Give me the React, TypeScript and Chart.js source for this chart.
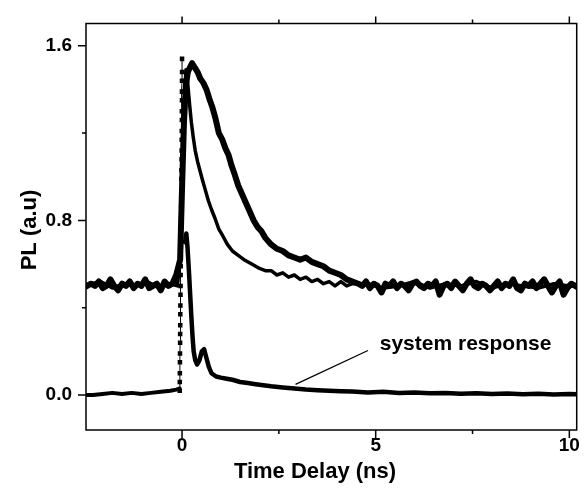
import React, { useEffect, useRef } from "react";
import { Chart, registerables } from "chart.js";

Chart.register(...registerables);

// ---- axis ticks ----
const xTickValues = [0, 5, 10];
const xMinorTicks = [2.5, 7.5];
const yTickValues = [0, 0.8, 1.6];
const yMinorTicks = [0.4, 1.2];
const xTitle = "Time Delay (ns)";
const yTitle = "PL (a.u)";
const annotationText = "system response";

// ---- sample A (thick trace, slower decay) ----
const sampleATime = [
  -2.55, -2.35, -2.25, -2.15, -2.05, -1.95, -1.85, -1.75, -1.65, -1.55, -1.45, -1.35,
  -1.25, -1.15, -1.05, -0.95, -0.85, -0.75, -0.65, -0.55, -0.45, -0.35, -0.25, -0.15,
  -0.05, 0.0, 0.05, 0.1, 0.15, 0.2, 0.26, 0.33, 0.4, 0.47,
  0.55, 0.63, 0.7, 0.78, 0.86, 0.95, 1.04, 1.12, 1.2, 1.28,
  1.36, 1.45, 1.55, 1.65, 1.75, 1.85, 1.95, 2.05, 2.15, 2.3,
  2.45, 2.6, 2.75, 2.9, 3.05, 3.2, 3.35, 3.5, 3.65, 3.8,
  3.95, 4.1, 4.25, 4.4,
  4.55, 4.65, 4.75, 4.85, 4.95, 5.05, 5.15, 5.25, 5.35, 5.45,
  5.55, 5.65, 5.75, 5.85, 5.95, 6.05, 6.15, 6.25, 6.35, 6.45,
  6.55, 6.65, 6.75, 6.85, 6.95, 7.05, 7.15, 7.25, 7.35, 7.45,
  7.55, 7.65, 7.75, 7.85, 7.95, 8.05, 8.15, 8.25, 8.35, 8.45,
  8.55, 8.65, 8.75, 8.85, 8.95, 9.05, 9.15, 9.25, 9.35, 9.45,
  9.55, 9.65, 9.75, 9.85, 9.95, 10.05, 10.15, 10.25,
];
const sampleAPL = [
  0.49, 0.51, 0.50, 0.52, 0.49, 0.50, 0.53, 0.50, 0.48, 0.51, 0.50, 0.52,
  0.49, 0.51, 0.50, 0.53, 0.49, 0.50, 0.51, 0.48, 0.52, 0.50, 0.51, 0.55,
  0.62, 0.95, 1.25, 1.42, 1.48, 1.50, 1.52, 1.50, 1.48, 1.45,
  1.43, 1.40, 1.36, 1.32, 1.27, 1.20, 1.17, 1.13, 1.10, 1.05,
  1.01, 0.96, 0.92, 0.88, 0.84, 0.80, 0.77, 0.75, 0.72, 0.69,
  0.67, 0.66, 0.64, 0.63, 0.62, 0.63, 0.61, 0.60, 0.59, 0.57,
  0.56, 0.55, 0.53, 0.52,
  0.51, 0.50, 0.52, 0.49, 0.51, 0.50, 0.47, 0.51, 0.50, 0.52,
  0.49, 0.51, 0.50, 0.48, 0.51, 0.52, 0.50, 0.49, 0.51, 0.50,
  0.52, 0.46, 0.50, 0.51, 0.49, 0.52, 0.50, 0.48, 0.51, 0.53,
  0.50, 0.49, 0.51, 0.50, 0.48, 0.50, 0.52, 0.49, 0.51, 0.50,
  0.53, 0.49, 0.48, 0.51, 0.50, 0.52, 0.49, 0.51, 0.53, 0.50,
  0.47, 0.50, 0.52, 0.46, 0.49, 0.51, 0.50, 0.49,
];

// ---- sample B (thinner trace, faster decay) ----
const sampleBTime = [
  -2.55, -2.1, -1.8, -1.5, -1.2, -0.9, -0.6, -0.3,
  -0.12, -0.05, 0.02, 0.07, 0.1, 0.14, 0.19, 0.24, 0.29, 0.34,
  0.4, 0.46, 0.52, 0.6, 0.68, 0.76, 0.85, 0.95, 1.05, 1.17,
  1.3, 1.45, 1.6, 1.8, 2.0, 2.15, 2.3, 2.45, 2.6, 2.75,
  2.9, 3.05, 3.2, 3.35, 3.5, 3.65, 3.8, 3.95, 4.1, 4.25,
  4.4, 4.8, 5.2, 5.6, 6.0, 6.4, 6.8, 7.2,
  7.6, 8.0, 8.4, 8.8, 9.2, 9.6, 10.0, 10.25,
];
const sampleBPL = [
  0.50, 0.52, 0.49, 0.51, 0.50, 0.52, 0.49, 0.51,
  0.50, 0.62, 1.05, 1.38, 1.49, 1.44, 1.34, 1.25, 1.18, 1.12,
  1.07, 1.03, 0.99, 0.94, 0.89, 0.85, 0.81, 0.76, 0.73, 0.69,
  0.66, 0.64, 0.62, 0.60, 0.58, 0.57, 0.57, 0.55, 0.56, 0.54,
  0.55, 0.53, 0.54, 0.52, 0.53, 0.51, 0.52, 0.50, 0.52, 0.50,
  0.51, 0.51, 0.49, 0.50, 0.52, 0.49, 0.51, 0.50,
  0.52, 0.49, 0.51, 0.50, 0.49, 0.51, 0.50, 0.50,
];

// ---- system response ----
const sysBaseTime = [-2.55, -2.3, -2.05, -1.8, -1.55, -1.3, -1.05, -0.8, -0.55, -0.3, -0.15, -0.06];
const sysBasePL = [0.0, 0.0, 0.005, 0.01, 0.005, 0.01, 0.005, 0.01, 0.015, 0.02, 0.025, 0.03];

const sysRiseTime = [
  -0.06, -0.058, -0.057, -0.055, -0.053, -0.05, -0.049, -0.047, -0.045, -0.043,
  -0.04, -0.038, -0.037, -0.035, -0.032, -0.03, -0.028, -0.027, -0.025, -0.022,
  -0.02, -0.018, -0.017, -0.015, -0.012, -0.01, -0.009, -0.007, -0.005, -0.004,
  -0.003, -0.002, -0.001, 0.0, 0.0,
];
const sysRisePL = [
  0.02, 0.06, 0.10, 0.15, 0.19, 0.24, 0.28, 0.32, 0.37, 0.41,
  0.46, 0.50, 0.55, 0.59, 0.63, 0.68, 0.72, 0.77, 0.81, 0.86,
  0.90, 0.94, 0.99, 1.03, 1.08, 1.12, 1.17, 1.21, 1.26, 1.30,
  1.35, 1.39, 1.44, 1.48, 1.54,
];

const sysDecayTime = [
  0.08, 0.11, 0.14, 0.18, 0.21, 0.24, 0.27, 0.3, 0.34, 0.39,
  0.45, 0.51, 0.57, 0.63, 0.69, 0.76, 0.88, 1.0, 1.15, 1.3,
  1.5, 1.7, 1.9, 2.1, 2.3, 2.6, 2.9, 3.2, 3.5, 3.8,
  4.1, 4.4, 4.8, 5.2, 5.6, 6.0, 6.4, 6.8, 7.2, 7.6,
  8.0, 8.4, 8.8, 9.2, 9.6, 10.0, 10.25,
];
const sysDecayPL = [
  0.70, 0.74, 0.68, 0.56, 0.46, 0.36, 0.27, 0.20, 0.16, 0.14,
  0.16, 0.20, 0.21, 0.17, 0.13, 0.10, 0.085, 0.08, 0.075, 0.07,
  0.06, 0.055, 0.05, 0.045, 0.04, 0.035, 0.03, 0.025, 0.022, 0.02,
  0.018, 0.016, 0.012, 0.015, 0.01, 0.012, 0.008, 0.01, 0.006, 0.008,
  0.005, 0.007, 0.004, 0.006, 0.003, 0.005, 0.004,
];

const toPoints = (xs: number[], ys: number[]) => xs.map((x, i) => ({ x, y: ys[i] }));

const FONT = '"Liberation Sans", Arial, sans-serif';

const framePlugin = {
  id: "frameAndTicks",
  afterDraw(chart: any) {
    const { ctx, chartArea: a, scales } = chart;
    const xs = scales.x;
    const ys = scales.y;
    ctx.save();
    ctx.strokeStyle = "#000";
    ctx.lineWidth = 1.5;
    ctx.strokeRect(a.left, a.top, a.right - a.left, a.bottom - a.top);
    ctx.beginPath();
    for (const v of xTickValues) {
      const px = xs.getPixelForValue(v);
      ctx.moveTo(px, a.bottom);
      ctx.lineTo(px, a.bottom + 8);
      ctx.moveTo(px, a.top);
      ctx.lineTo(px, a.top - 7);
    }
    for (const v of xMinorTicks) {
      const px = xs.getPixelForValue(v);
      ctx.moveTo(px, a.bottom);
      ctx.lineTo(px, a.bottom + 4);
      ctx.moveTo(px, a.top);
      ctx.lineTo(px, a.top - 4);
    }
    for (const v of yTickValues) {
      const py = ys.getPixelForValue(v);
      ctx.moveTo(a.left, py);
      ctx.lineTo(a.left - 8, py);
    }
    for (const v of yMinorTicks) {
      const py = ys.getPixelForValue(v);
      ctx.moveTo(a.left, py);
      ctx.lineTo(a.left - 4, py);
    }
    ctx.stroke();

    // annotation
    ctx.fillStyle = "#000";
    ctx.font = `bold 21px ${FONT}`;
    ctx.textAlign = "center";
    ctx.textBaseline = "alphabetic";
    ctx.fillText(annotationText, xs.getPixelForValue(7.32), ys.getPixelForValue(0.205));
    ctx.lineWidth = 1.3;
    ctx.beginPath();
    ctx.moveTo(xs.getPixelForValue(4.8), ys.getPixelForValue(0.204));
    ctx.lineTo(xs.getPixelForValue(2.93), ys.getPixelForValue(0.049));
    ctx.stroke();

    // axis titles
    ctx.font = `bold 22px ${FONT}`;
    ctx.textBaseline = "middle";
    ctx.fillText(xTitle, 315, 472);
    ctx.translate(30, 230);
    ctx.rotate(-Math.PI / 2);
    ctx.fillText(yTitle, 0, 0);
    ctx.restore();
  },
};

export default function App() {
  const ref = useRef<HTMLCanvasElement | null>(null);
  useEffect(() => {
    document.body.style.margin = "0";
    const canvas = ref.current;
    if (!canvas) return;
    const line = (data: any, width: number) => ({
      data,
      showLine: true,
      borderColor: "#000",
      backgroundColor: "#000",
      borderWidth: width,
      pointRadius: 0,
      tension: 0,
      borderJoinStyle: "round",
      borderCapStyle: "round",
    });
    const chart = new Chart(canvas, {
      type: "scatter",
      data: {
        datasets: [
          line(toPoints(sysBaseTime, sysBasePL), 4),
          line(toPoints(sysDecayTime, sysDecayPL), 4.5),
          {
            data: toPoints(sysRiseTime, sysRisePL),
            showLine: true,
            borderColor: "#000",
            backgroundColor: "#000",
            borderWidth: 1,
            pointStyle: "rect",
            pointRadius: 3.2,
            pointBorderWidth: 0,
          },
          line(toPoints(sampleBTime, sampleBPL), 3.5),
          line(toPoints(sampleATime, sampleAPL), 6),
        ] as any,
      },
      options: {
        animation: false,
        responsive: false,
        events: [],
        layout: { padding: { top: 11, right: 6, left: 0, bottom: 0 } },
        plugins: { legend: { display: false }, tooltip: { enabled: false } },
        scales: {
          x: {
            type: "linear",
            min: -2.48,
            max: 10.19,
            grid: { display: false, drawTicks: false },
            border: { display: false },
            afterBuildTicks: (s: any) => {
              s.ticks = xTickValues.map((v) => ({ value: v }));
            },
            afterFit: (s: any) => {
              s.height = 70;
            },
            ticks: {
              color: "#000",
              padding: 6,
              maxRotation: 0,
              autoSkip: false,
              font: { family: FONT, size: 19, weight: "bold", lineHeight: 1 },
              callback: (v: any) => String(v),
            },
          },
          y: {
            type: "linear",
            min: -0.16,
            max: 1.702,
            grid: { display: false, drawTicks: false },
            border: { display: false },
            afterBuildTicks: (s: any) => {
              s.ticks = yTickValues.map((v) => ({ value: v }));
            },
            afterFit: (s: any) => {
              s.width = 86;
            },
            ticks: {
              color: "#000",
              padding: 14,
              autoSkip: false,
              font: { family: FONT, size: 19, weight: "bold", lineHeight: 1 },
              callback: (v: any) => Number(v).toFixed(1),
            },
          },
        },
      } as any,
      plugins: [framePlugin],
    });
    return () => chart.destroy();
  }, []);
  return <canvas ref={ref} width={586} height={500} style={{ display: "block", width: 586, height: 500 }} />;
}
